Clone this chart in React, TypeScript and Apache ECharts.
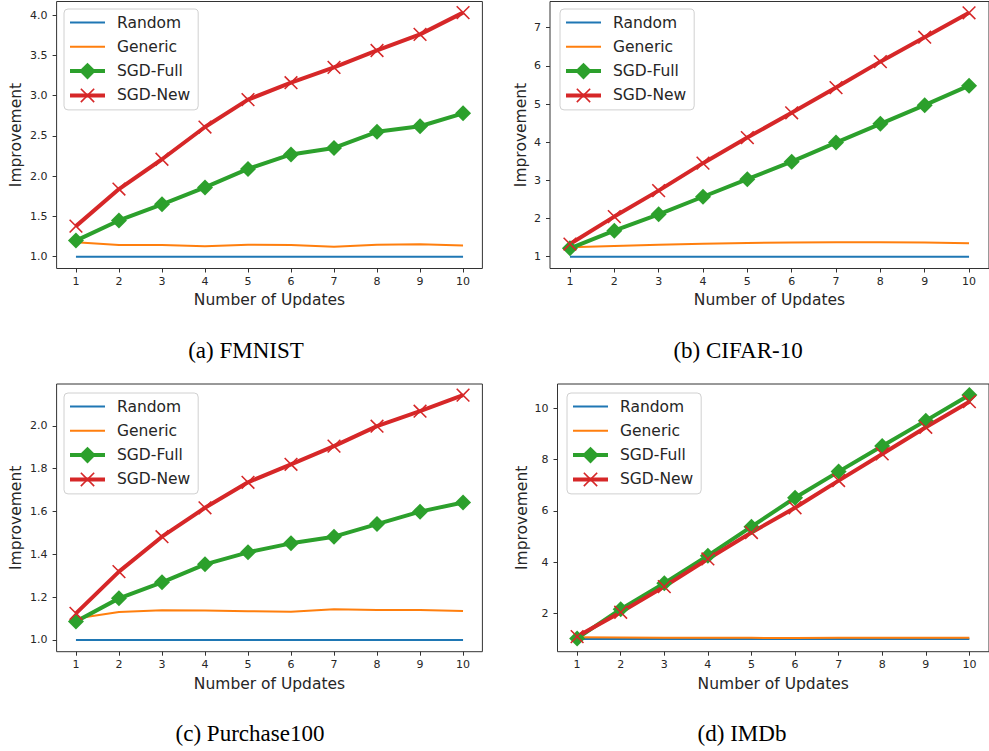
import React, { useEffect, useRef } from "react";
import * as echarts from "echarts";

// ---------- data ----------
const updates = [1, 2, 3, 4, 5, 6, 7, 8, 9, 10];
const seriesNames = ["Random", "Generic", "SGD-Full", "SGD-New"];
const captions = ["(a) FMNIST", "(b) CIFAR-10", "(c) Purchase100", "(d) IMDb"];

const fmRandom = [1, 1, 1, 1, 1, 1, 1, 1, 1, 1];
const fmGeneric = [1.18, 1.145, 1.145, 1.13, 1.15, 1.145, 1.125, 1.15, 1.155, 1.14];
const fmFull = [1.2, 1.45, 1.65, 1.86, 2.09, 2.27, 2.35, 2.55, 2.62, 2.78];
const fmNew = [1.38, 1.84, 2.21, 2.61, 2.95, 3.16, 3.35, 3.56, 3.76, 4.03];

const cfRandom = [1, 1, 1, 1, 1, 1, 1, 1, 1, 1];
const cfGeneric = [1.25, 1.28, 1.31, 1.34, 1.36, 1.37, 1.38, 1.38, 1.37, 1.35];
const cfFull = [1.22, 1.68, 2.11, 2.57, 3.03, 3.49, 3.99, 4.48, 4.97, 5.48];
const cfNew = [1.33, 2.05, 2.73, 3.45, 4.12, 4.77, 5.43, 6.11, 6.75, 7.39];

const puRandom = [1, 1, 1, 1, 1, 1, 1, 1, 1, 1];
const puGeneric = [1.1, 1.13, 1.138, 1.137, 1.134, 1.132, 1.143, 1.14, 1.14, 1.135];
const puFull = [1.086, 1.194, 1.269, 1.353, 1.409, 1.451, 1.482, 1.541, 1.599, 1.642];
const puNew = [1.124, 1.319, 1.482, 1.617, 1.736, 1.82, 1.905, 1.998, 2.068, 2.143];

const imRandom = [1, 1, 1, 1, 1, 1, 1, 1, 1, 1];
const imGeneric = [1.06, 1.05, 1.04, 1.04, 1.04, 1.03, 1.04, 1.04, 1.04, 1.04];
const imFull = [1.02, 2.16, 3.17, 4.25, 5.38, 6.51, 7.53, 8.53, 9.52, 10.52];
const imNew = [1.09, 2.04, 3.04, 4.12, 5.15, 6.12, 7.18, 8.22, 9.26, 10.26];

const fmTicks = [1.0, 1.5, 2.0, 2.5, 3.0, 3.5, 4.0];
const cfTicks = [1, 2, 3, 4, 5, 6, 7];
const puTicks = [1.0, 1.2, 1.4, 1.6, 1.8, 2.0];
const imTicks = [2, 4, 6, 8, 10];

// ---------- layout / style ----------
const panels = [
  { data: [fmRandom, fmGeneric, fmFull, fmNew], ticks: fmTicks, dec: 1, ymin: 0.854, ymax: 4.168,
    grid: { left: 56.6, top: 1.5, width: 425.8, height: 267 }, legend: { left: 64, top: 9 },
    yGap: 33, xGap: 23, cap: { x: 246, y: 350 } },
  { data: [cfRandom, cfGeneric, cfFull, cfNew], ticks: cfTicks, dec: 0, ymin: 0.69, ymax: 7.686,
    grid: { left: 550, top: 1.5, width: 440, height: 267 }, legend: { left: 560, top: 9 },
    yGap: 21, xGap: 23, cap: { x: 738, y: 350 } },
  { data: [puRandom, puGeneric, puFull, puNew], ticks: puTicks, dec: 1, ymin: 0.945, ymax: 2.195,
    grid: { left: 56.6, top: 384, width: 425.8, height: 267.7 }, legend: { left: 64, top: 393 },
    yGap: 33, xGap: 24, cap: { x: 250, y: 733 } },
  { data: [imRandom, imGeneric, imFull, imNew], ticks: imTicks, dec: 0, ymin: 0.5, ymax: 10.95,
    grid: { left: 557.5, top: 384, width: 432, height: 267.7 }, legend: { left: 567, top: 393 },
    yGap: 28, xGap: 24, cap: { x: 742, y: 733 } },
];

const COLORS = ["#1f77b4", "#ff7f0e", "#2ca02c", "#d62728"];
const FONT = "DejaVu Sans";
const TXT = "#262626";
const FRAME = "#333333";

const d = 8;
const X_SYMBOL =
  "path://M-8,-8L-7.99,-8L-8,-7.99Z M108,108L107.99,108L108,107.99Z " +
  `M0,${d}L${d},0L50,${50 - d}L${100 - d},0L100,${d}L${50 + d},50L100,${100 - d}L${100 - d},100L50,${50 + d}L${d},100L0,${100 - d}L${50 - d},50Z`;
const LINE_ICON =
  "path://M0,0L0.01,0L0,0.01Z M0,9.5L35,9.5L35,11.5L0,11.5Z M35,21L34.99,21L35,20.99Z";

function buildOption() {
  const grid: any[] = [];
  const xAxis: any[] = [];
  const yAxis: any[] = [];
  const series: any[] = [];
  const legend: any[] = [];
  const graphic: any[] = [];

  panels.forEach((p, gi) => {
    grid.push({
      ...p.grid,
      show: true,
      borderColor: FRAME,
      borderWidth: 1,
      backgroundColor: "transparent",
      containLabel: false,
    });
    xAxis.push({
      type: "value",
      gridIndex: gi,
      min: 0.55,
      max: 10.45,
      name: "Number of Updates",
      nameLocation: "middle",
      nameGap: p.xGap,
      nameTextStyle: { fontFamily: FONT, fontSize: 15.5, color: TXT },
      axisLine: { show: false },
      splitLine: { show: false },
      axisTick: { show: true, length: 4, lineStyle: { color: FRAME }, customValues: updates },
      axisLabel: { fontFamily: FONT, fontSize: 11, color: TXT, margin: 7, customValues: updates },
    });
    yAxis.push({
      type: "value",
      gridIndex: gi,
      min: p.ymin,
      max: p.ymax,
      name: "Improvement",
      nameLocation: "middle",
      nameGap: p.yGap,
      nameTextStyle: { fontFamily: FONT, fontSize: 15.5, color: TXT },
      axisLine: { show: false },
      splitLine: { show: false },
      axisTick: { show: true, length: 4, lineStyle: { color: FRAME }, customValues: p.ticks },
      axisLabel: {
        fontFamily: FONT,
        fontSize: 11,
        color: TXT,
        margin: 9,
        customValues: p.ticks,
        formatter: (v: number) => v.toFixed(p.dec),
      },
    });
    p.data.forEach((vals, si) => {
      const pts = updates.map((u, i) => [u, vals[i]]);
      const base: any = {
        name: seriesNames[si],
        type: "line",
        xAxisIndex: gi,
        yAxisIndex: gi,
        data: pts,
        color: COLORS[si],
        lineStyle: { color: COLORS[si], width: si < 2 ? 2 : 4, join: "round" },
        itemStyle: { color: COLORS[si], borderWidth: 0 },
        emphasis: { disabled: true },
        silent: true,
      };
      if (si < 2) {
        base.symbol = "none";
        base.showSymbol = false;
      } else if (si === 2) {
        base.symbol = "diamond";
        base.symbolSize = 16;
        base.showSymbol = true;
      } else {
        base.symbol = X_SYMBOL;
        base.symbolSize = 16;
        base.showSymbol = true;
      }
      series.push(base);
    });
    legend.push({
      left: p.legend.left,
      top: p.legend.top,
      orient: "vertical",
      itemWidth: 35,
      itemHeight: 21,
      itemGap: 3.3,
      padding: [3, 8, 4, 4],
      backgroundColor: "rgba(255,255,255,0.8)",
      borderColor: "#d0d0d0",
      borderWidth: 1,
      borderRadius: 4,
      selectedMode: false,
      textStyle: {
        fontFamily: FONT,
        fontSize: 15.5,
        color: TXT,
        lineHeight: 21,
        height: 21,
        padding: [0, 0, 0, 7],
      },
      data: [
        { name: "Random", icon: LINE_ICON },
        { name: "Generic", icon: LINE_ICON },
        { name: "SGD-Full", lineStyle: { width: 4, color: COLORS[2] } },
        { name: "SGD-New", lineStyle: { width: 4, color: COLORS[3] } },
      ],
    });
    graphic.push({
      type: "text",
      x: p.cap.x,
      y: p.cap.y,
      style: {
        text: captions[gi],
        fontFamily: "Liberation Serif",
        fontSize: 23,
        fill: "#000",
        align: "center",
        verticalAlign: "middle",
      },
    });
  });

  return {
    animation: false,
    backgroundColor: "#ffffff",
    grid,
    xAxis,
    yAxis,
    series,
    legend,
    graphic,
  };
}

export default function App() {
  const ref = useRef<HTMLDivElement>(null);
  useEffect(() => {
    if (!ref.current) return;
    const chart = echarts.init(ref.current, undefined, { renderer: "svg" });
    chart.setOption(buildOption() as any);
    return () => chart.dispose();
  }, []);
  return (
    <div
      ref={ref}
      style={{ position: "fixed", left: 0, top: 0, width: 989, height: 751, background: "#fff" }}
    />
  );
}
